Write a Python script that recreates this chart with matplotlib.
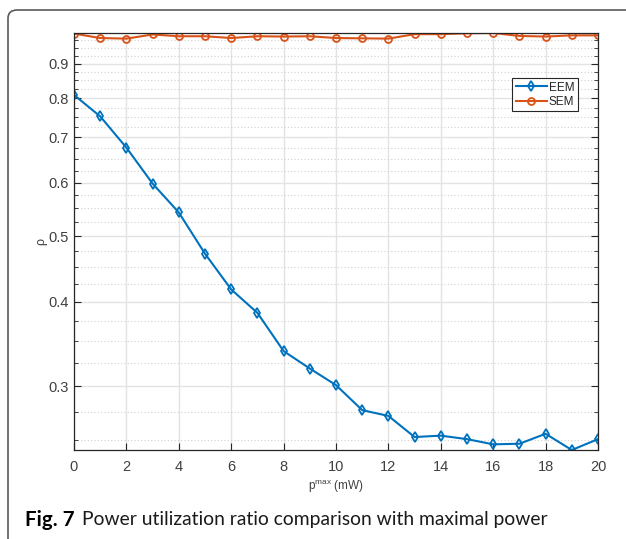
import matplotlib
matplotlib.use('Agg')
import matplotlib.pyplot as plt
from matplotlib.patches import FancyBboxPatch
from matplotlib.ticker import FixedLocator, NullFormatter
import numpy as np

# Data
p_max = list(range(0, 21))
eem = [0.809, 0.752, 0.676, 0.598, 0.542, 0.471, 0.417, 0.385, 0.338, 0.3185,
       0.301, 0.2764, 0.271, 0.2522, 0.2534, 0.2504, 0.246, 0.2465, 0.255, 0.2413, 0.2504]
sem = [0.997, 0.982, 0.980, 0.994, 0.988, 0.988, 0.982, 0.988, 0.987, 0.988,
       0.982, 0.981, 0.980, 0.995, 0.995, 0.998, 0.999, 0.989, 0.987, 0.991, 0.991]
y_ticks = [0.3, 0.4, 0.5, 0.6, 0.7, 0.8, 0.9]
x_ticks = list(range(0, 21, 2))

blue = '#0072BD'
orange = '#D95319'
dark = '#262626'
label_gray = '#404040'

plt.rcParams['font.family'] = ['Liberation Sans', 'DejaVu Sans']

fig = plt.figure(figsize=(6.26, 5.39), dpi=100)

# outer frame of the journal figure box
frame = FancyBboxPatch((8 / 626, -0.05), 1.1, 1.05 - 10 / 539,
                       boxstyle='round,pad=0,rounding_size=0.015',
                       transform=fig.transFigure, fill=False,
                       edgecolor='#5a5a5a', linewidth=1.2)
fig.patches.append(frame)

ax = fig.add_axes([74 / 626, 1 - 450 / 539, 524 / 626, 417 / 539])
ax.set_yscale('log')

ax.plot(p_max, eem, color=blue, marker='d', markersize=5, markerfacecolor='none',
        markeredgewidth=1.3, linewidth=1.5, label='EEM')
ax.plot(p_max, sem, color=orange, marker='o', markersize=5, markerfacecolor='none',
        markeredgewidth=1.3, linewidth=1.5, label='SEM')

ax.set_xlim(0, 20)
ax.set_ylim(min(eem), max(sem))

ax.set_xticks(x_ticks)
ax.set_xticklabels([str(v) for v in x_ticks])
ax.yaxis.set_major_locator(FixedLocator(y_ticks))
ax.set_yticklabels([str(v) for v in y_ticks])
ax.yaxis.set_minor_locator(FixedLocator(np.arange(0.225, 1.0, 0.025)))
ax.yaxis.set_minor_formatter(NullFormatter())
ax.xaxis.set_minor_locator(FixedLocator([]))

ax.grid(True, which='major', color='#e3e3e3', linewidth=1.0, linestyle='-')
ax.grid(True, which='minor', axis='y', color='#d0d0d0', linewidth=0.8, linestyle=(0, (1, 2)))
ax.set_axisbelow(True)

ax.tick_params(axis='both', which='both', direction='in', colors=dark,
               labelcolor=label_gray, labelsize=10.5, top=False, right=True)
ax.tick_params(axis='both', which='major', length=5, width=0.8)
ax.tick_params(axis='y', which='minor', length=3, width=0.6)
ax.tick_params(axis='x', which='major', pad=7)
for s in ax.spines.values():
    s.set_color(dark)
    s.set_linewidth(0.9)

ax.set_ylabel('ρ', fontsize=9, color=label_gray, labelpad=1)
ax.set_xlabel(r'$\mathregular{p^{max}}$ (mW)', fontsize=8.5, color=label_gray, labelpad=3)

leg = ax.legend(loc='upper right', bbox_to_anchor=(0.962, 0.892), fontsize=8.5,
                fancybox=False, framealpha=1, edgecolor=dark, handlelength=2.6,
                borderpad=0.3, labelspacing=0.2, handletextpad=0.2, borderaxespad=0)
leg.get_frame().set_linewidth(0.8)
for t in leg.get_texts():
    t.set_color(dark)

fig.text(25 / 626, 1 - 520 / 539, 'Fig. 7', fontsize=14.8, fontweight='bold',
         family='Lato', va='center', ha='left')
fig.text(82 / 626, 1 - 520 / 539, 'Power utilization ratio comparison with maximal power',
         fontsize=13.85, family='Lato', va='center', ha='left', color='#1a1a1a')

fig.savefig('out.png', dpi=100)
